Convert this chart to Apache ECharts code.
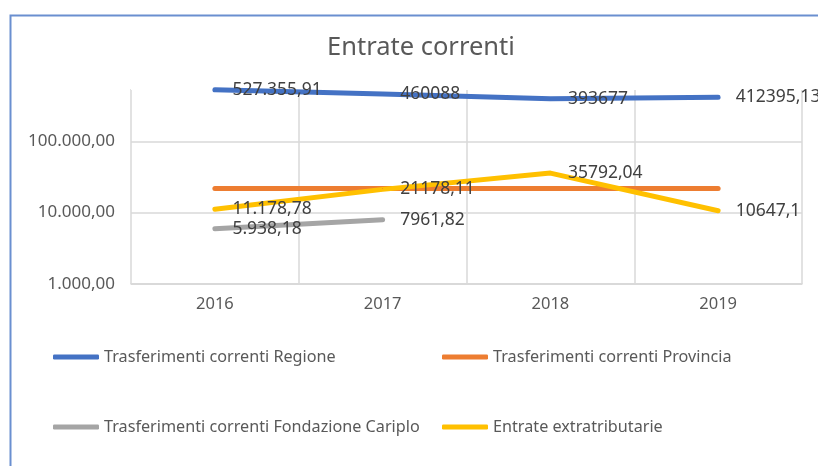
<!DOCTYPE html>
<html>
<head>
<meta charset="utf-8">
<title>Entrate correnti</title>
<script src="https://cdn.jsdelivr.net/npm/echarts@6/dist/echarts.min.js"></script>
<style>
    html, body { margin: 0; padding: 0; background: #fff; }
    #main { width: 818px; height: 466px; }
</style>
</head>
<body>
<div id="main"></div>
<script>
var years = ['2016', '2017', '2018', '2019'];

var regione = [527355.91, 460088, 393677, 412395.13];
var provincia = [21700, 21700, 21700, 21700];
var cariplo = [5938.18, 7961.82, null, null];
var extratributarie = [11178.78, 21178.11, 35792.04, 10647.1];

// etichette come scritte nel grafico originale
var regioneLabels = ['527.355,91', '460088', '393677', '412395,13'];
var cariploLabels = ['5.938,18', '7961,82'];
var extraLabels = ['11.178,78', '21178,11', '35792,04', '10647,1'];

var yMin = 1000;
var yMax = 540000;

var FONT = '"Noto Sans", "Open Sans", sans-serif';

function itNumber(v) {
    var parts = v.toFixed(2).split('.');
    var intPart = parts[0].replace(/\B(?=(\d{3})+(?!\d))/g, '.');
    return intPart + ',' + parts[1];
}

function lineSeries(name, data, color, labels) {
    var s = {
        name: name,
        type: 'line',
        data: data,
        symbol: 'circle',
        symbolSize: 1,
        connectNulls: false,
        itemStyle: { color: color },
        lineStyle: { color: color, width: 5, cap: 'round', join: 'round' },
        label: { show: false },
        emphasis: { disabled: true }
    };
    if (labels) {
        s.label = {
            show: true,
            position: 'right',
            distance: 17,
            color: '#404040',
            fontFamily: FONT,
            fontSize: 17.5,
            formatter: function (p) {
                return labels[p.dataIndex] || '';
            }
        };
    }
    return s;
}

function legendItem(name, left, top) {
    return {
        data: [name],
        left: left, top: top,
        padding: 0,
        icon: 'roundRect', itemWidth: 46, itemHeight: 5,
        textStyle: { color: '#595959', fontFamily: FONT, fontSize: 16.2 }
    };
}

var chart = echarts.init(document.getElementById('main'));

var option = {
    backgroundColor: '#fff',
    animation: false,
    title: {
        text: 'Entrate correnti',
        left: 322,
        top: 30,
        textStyle: { color: '#595959', fontFamily: FONT, fontSize: 25.5, fontWeight: 'normal' }
    },
    graphic: [
        {
            type: 'polyline',
            shape: { points: [[10.5, 470], [10.5, 15.5], [830, 15.5]] },
            style: { stroke: '#6a8fd0', lineWidth: 2, fill: null },
            silent: true
        },
        {
            // nasconde la linea di griglia al bordo superiore
            type: 'rect',
            z: 1,
            shape: { x: 131, y: 87.5, width: 672, height: 2.5 },
            style: { fill: '#fff' },
            silent: true
        }
    ],
    legend: [
        legendItem('Trasferimenti correnti Regione', 53, 349),
        legendItem('Trasferimenti correnti Provincia', 442, 349),
        legendItem('Trasferimenti correnti Fondazione Cariplo', 53, 419),
        legendItem('Entrate extratributarie', 442, 419)
    ],
    grid: { left: 131, right: 16, top: 89, bottom: 182, containLabel: false },
    xAxis: {
        type: 'category',
        data: years,
        boundaryGap: true,
        axisLine: { lineStyle: { color: '#d9d9d9', width: 1.5 } },
        axisTick: { show: false },
        axisLabel: { color: '#595959', fontFamily: FONT, fontSize: 16.5, margin: 12 },
        splitLine: { show: true, interval: 0, lineStyle: { color: '#d9d9d9', width: 1.5 } }
    },
    yAxis: {
        type: 'log',
        logBase: 10,
        min: yMin,
        max: yMax,
        axisLine: { show: false },
        axisTick: { show: false },
        axisLabel: {
            color: '#595959', fontFamily: FONT, fontSize: 17, margin: 16,
            showMaxLabel: false,
            formatter: function (v) {
                return v >= yMax ? '' : itNumber(v);
            }
        },
        splitLine: { lineStyle: { color: '#d9d9d9', width: 1.5 } }
    },
    series: [
        lineSeries('Trasferimenti correnti Regione', regione, '#4472C4', regioneLabels),
        lineSeries('Trasferimenti correnti Provincia', provincia, '#ED7D31', null),
        lineSeries('Trasferimenti correnti Fondazione Cariplo', cariplo, '#A5A5A5', cariploLabels),
        lineSeries('Entrate extratributarie', extratributarie, '#FFC000', extraLabels)
    ]
};

chart.setOption(option);
</script>
</body>
</html>
